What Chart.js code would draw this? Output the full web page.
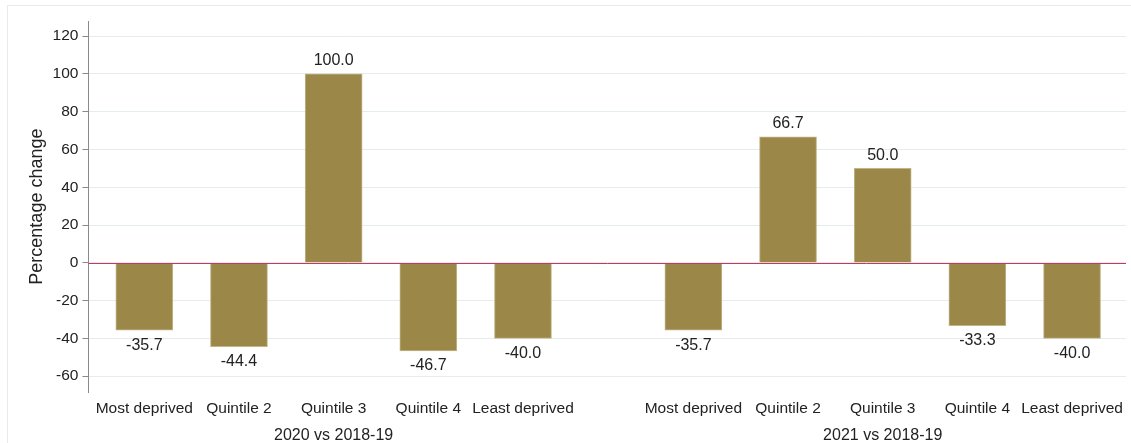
<!DOCTYPE html>
<html>
<head>
<meta charset="utf-8">
<script src="https://cdn.jsdelivr.net/npm/chart.js@4"></script>
<style>
  html, body { margin: 0; padding: 0; background: #fff; }
  #frame { position: absolute; left: 7px; top: 5px; width: 1200px; height: 500px;
           border-left: 1px solid #e8ebec; border-top: 1px solid #e8ebec; }
  #wrap { position: absolute; left: 0; top: 0; width: 1131px; height: 443px; }
</style>
</head>
<body>
<div id="frame"></div>
<div id="wrap"><canvas id="chart"></canvas></div>
<script>
// data
const quintiles = ['Most deprived', 'Quintile 2', 'Quintile 3', 'Quintile 4', 'Least deprived']
const groups = ['2020 vs 2018-19', '2021 vs 2018-19']
const values2020 = [-35.7, -44.4, 100.0, -46.7, -40.0]
const values2021 = [-35.7, 66.7, 50.0, -33.3, -40.0]
const yTicks = [-60, -40, -20, 0, 20, 40, 60, 80, 100, 120]

// second group sits a little closer than a full empty slot
const groupStep = 5.8
const xPos = (g, i) => g * groupStep + i

const points = []
const tickPos = []
const tickText = []
;[values2020, values2021].forEach((vals, g) => {
  vals.forEach((v, i) => {
    points.push({ x: xPos(g, i), y: v })
    tickPos.push(xPos(g, i))
    tickText.push(quintiles[i])
  })
})
const groupPos = groups.map((_, g) => xPos(g, 2))

const xMin = -0.59
const xMax = xPos(1, 4) + 0.57

const family = 'Liberation Sans, Arial, sans-serif'
const tickFont = { family: family, size: 15.5 }
const labelFont = { family: family, size: 16 }
const titleFont = { family: family, size: 18 }

//draws the value on top / under each bar, plus the red zero line over the bars
const barLabels = {
  id: 'barLabels',
  afterDatasetsDraw(chart) {
    const ctx = chart.ctx
    const area = chart.chartArea
    const y0 = chart.scales.y.getPixelForValue(0)
    ctx.save()
    ctx.strokeStyle = '#c8385a'
    ctx.lineWidth = 1
    ctx.beginPath()
    ctx.moveTo(area.left, Math.round(y0) + 0.5)
    ctx.lineTo(area.right, Math.round(y0) + 0.5)
    ctx.stroke()

    ctx.font = `${labelFont.size}px ${family}`
    ctx.fillStyle = '#222'
    ctx.textAlign = 'center'
    const meta = chart.getDatasetMeta(0)
    meta.data.forEach((bar, i) => {
      const v = points[i].y
      if (v >= 0) {
        ctx.textBaseline = 'bottom'
        ctx.fillText(v.toFixed(1), bar.x, bar.y - 5)
      } else {
        ctx.textBaseline = 'top'
        ctx.fillText(v.toFixed(1), bar.x, bar.y + 7)
      }
    })
    ctx.restore()
  }
}

new Chart(document.getElementById('chart'), {
  type: 'bar',
  data: {
    datasets: [{
      data: points,
      backgroundColor: '#9b8849',
      borderColor: '#c2b487',
      borderWidth: 1,
      barThickness: 57,
    }]
  },
  options: {
    responsive: true,
    maintainAspectRatio: false,
    animation: false,
    layout: { padding: { left: 26, right: 5, top: 21, bottom: -3 } },
    plugins: { legend: { display: false }, tooltip: { enabled: false } },
    scales: {
      x: {
        type: 'linear',
        offset: false,
        min: xMin,
        max: xMax,
        grid: { display: false, drawTicks: false },
        border: { display: false },
        afterBuildTicks: axis => { axis.ticks = tickPos.map(v => ({ value: v })) },
        ticks: {
          autoSkip: false,
          maxRotation: 0,
          padding: 7,
          color: '#222',
          font: tickFont,
          callback: (v, i) => tickText[i]
        }
      },
      x2: {
        type: 'linear',
        position: 'bottom',
        offset: false,
        min: xMin,
        max: xMax,
        grid: { display: false, drawTicks: false },
        border: { display: false },
        afterBuildTicks: axis => { axis.ticks = groupPos.map(v => ({ value: v })) },
        ticks: {
          autoSkip: false,
          maxRotation: 0,
          padding: 1,
          color: '#222',
          font: labelFont,
          callback: (v, i) => groups[i]
        }
      },
      y: {
        min: -68.5,
        max: 128,
        afterBuildTicks: axis => { axis.ticks = yTicks.map(v => ({ value: v })) },
        grid: {
          color: '#e4ecee',
          tickColor: '#8a8a8a',
          tickLength: 6,
        },
        border: { color: '#8a8a8a', width: 1 },
        ticks: { color: '#222', font: tickFont, padding: 4 },
        title: {
          display: true,
          text: 'Percentage change',
          color: '#222',
          font: titleFont,
          padding: { top: 0, bottom: 1 }
        }
      }
    }
  },
  plugins: [barLabels]
})
</script>
</body>
</html>
